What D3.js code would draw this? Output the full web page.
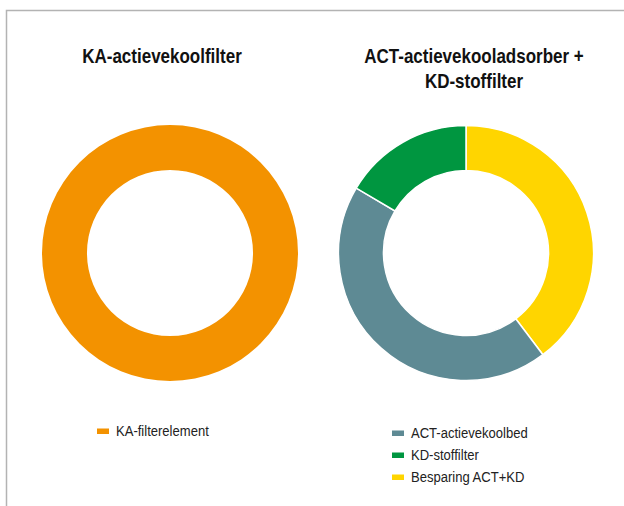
<!DOCTYPE html>
<html>
<head>
<meta charset="utf-8">
<script src="https://cdn.jsdelivr.net/npm/d3@7/dist/d3.min.js"></script>
<style>
  html, body { margin: 0; padding: 0; background: #fff; }
  svg { display: block; }
</style>
</head>
<body>
<svg id="chart" width="624" height="506"></svg>
<script>
// ---- data ----
const leftTitle = ["KA-actievekoolfilter"];
const leftCategories = ["KA-filterelement"];
const leftValues = [100];
const leftColors = ["#F39200"];

const rightTitle = ["ACT-actievekooladsorber +", "KD-stoffilter"];
const rightCategories = ["ACT-actievekoolbed", "KD-stoffilter", "Besparing ACT+KD"];
const rightValues = [43.8, 16.5, 39.7];
const rightColors = ["#5E8A94", "#009640", "#FFD500"];
// drawing order clockwise from 12 o'clock
const rightDrawOrder = ["Besparing ACT+KD", "ACT-actievekoolbed", "KD-stoffilter"];

// ---- drawing ----
const svg = d3.select("#chart");
const font = "'Liberation Sans', Arial, sans-serif";
const condense = 0.85;

svg.append("rect")
  .attr("x", 6.5).attr("y", 10.5)
  .attr("width", 800).attr("height", 800)
  .attr("fill", "#fff")
  .attr("stroke", "#b3b3b3")
  .attr("stroke-width", 1.5);

function donut(cfg) {
  const g = svg.append("g");
  // title
  cfg.title.forEach((line, i) => {
    g.append("g")
      .attr("transform", `translate(${cfg.titleX},${63 + i * 25}) scale(${condense},1)`)
      .append("text")
      .attr("text-anchor", "middle")
      .attr("font-family", font)
      .attr("font-weight", "bold")
      .attr("font-size", 20)
      .attr("fill", "#111")
      .text(line);
  });

  const data = cfg.order.map(name => {
    const idx = cfg.categories.indexOf(name);
    return { name, value: cfg.values[idx] };
  });
  const pie = d3.pie().sort(null).value(d => d.value);
  const arc = d3.arc().innerRadius(cfg.inner).outerRadius(cfg.outer);
  const color = d3.scaleOrdinal().domain(cfg.categories).range(cfg.colors);

  g.append("g")
    .attr("transform", `translate(${cfg.cx},${cfg.cy})`)
    .selectAll("path")
    .data(pie(data))
    .join("path")
    .attr("d", arc)
    .attr("fill", d => color(d.data.name))
    .attr("stroke", data.length > 1 ? "#fff" : "none")
    .attr("stroke-width", 1.5);

  // legend
  const lg = g.append("g");
  cfg.categories.forEach((name, i) => {
    const y = cfg.legendY + i * 22;
    lg.append("rect")
      .attr("x", cfg.legendX).attr("y", y - 2.5)
      .attr("width", 12).attr("height", 5.5)
      .attr("fill", color(name));
    lg.append("g")
      .attr("transform", `translate(${cfg.legendX + 19},${y}) scale(0.87,1)`)
      .append("text")
      .attr("dy", "0.35em")
      .attr("font-family", font)
      .attr("font-size", 15)
      .attr("fill", "#222")
      .text(name);
  });
}

donut({
  title: leftTitle, titleX: 162,
  categories: leftCategories, values: leftValues, colors: leftColors, order: leftCategories,
  cx: 170, cy: 253, outer: 128, inner: 83,
  legendX: 97, legendY: 431
});

donut({
  title: rightTitle, titleX: 474,
  categories: rightCategories, values: rightValues, colors: rightColors, order: rightDrawOrder,
  cx: 466, cy: 253, outer: 127.5, inner: 82.5,
  legendX: 392, legendY: 433
});
</script>
</body>
</html>
